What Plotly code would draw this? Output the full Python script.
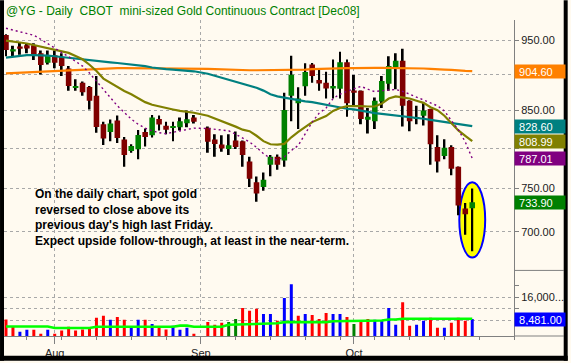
import math
import numpy as np
import pandas as pd
import plotly.graph_objects as go

# ------------------------------------------------------------------ data
first_day = "2008-07-23"
holidays = ["2008-09-01"]
trade_dates = [d for d in pd.bdate_range(first_day, "2008-10-24")
               if d.strftime("%Y-%m-%d") not in holidays]

month_labels = ["Aug", "Sep", "Oct"]
month_starts = ["2008-08-01", "2008-09-01", "2008-10-01"]

open_ = [958.6, 933.5, 941.0, 943.0, 943.0, 931.0, 917.0, 928.0, 925.3, 908.6,
         882.0, 888.0, 882.0, 869.8, 831.0, 821.0, 836.2, 811.0, 796.5, 798.7,
         821.0, 816.6, 838.0, 829.0, 827.0, 827.0, 832.6, 840.0,
         826.5, 811.0, 804.6, 798.8, 810.0, 809.0, 783.0, 757.5, 752.0, 779.0,
         789.0, 784.5, 869.8, 859.6, 883.0, 914.4, 892.0, 888.0, 880.0, 879.5,
         917.5, 877.0, 876.7, 837.0, 835.0, 862.0, 886.6, 909.5, 920.0, 863.0,
         838.6, 842.5, 851.7, 801.5, 790.0, 801.5, 776.5, 726.5, 726.8]
high = [959.7, 942.0, 947.0, 946.0, 946.0, 935.0, 935.0, 935.0, 931.0, 912.0,
        893.0, 889.7, 883.6, 897.7, 834.6, 837.3, 842.8, 814.5, 805.0, 823.7,
        825.6, 843.6, 842.8, 834.6, 834.6, 840.0, 849.5, 843.6,
        828.0, 818.0, 816.6, 818.0, 821.6, 810.0, 789.0, 764.5, 769.5, 791.3,
        792.0, 873.9, 927.4, 881.6, 916.0, 916.6, 907.0, 904.0, 921.6, 933.0,
        921.6, 899.0, 877.0, 853.0, 867.5, 897.7, 926.5, 931.0, 937.6, 863.5,
        856.0, 860.0, 852.0, 816.6, 811.5, 803.8, 777.0, 733.0, 750.0]
low = [926.5, 926.5, 928.8, 931.0, 921.0, 900.0, 914.4, 909.0, 897.7, 876.7,
       876.7, 869.8, 850.8, 820.0, 804.0, 809.0, 806.7, 776.5, 794.0, 786.0,
       802.0, 813.8, 823.0, 818.0, 809.0, 823.0, 827.0, 832.0,
       794.0, 789.0, 795.5, 791.3, 798.8, 776.5, 752.0, 734.5, 747.5, 765.0,
       772.8, 776.5, 835.0, 825.0, 869.8, 888.0, 876.7, 866.0, 866.0, 866.0,
       841.0, 855.0, 831.0, 819.0, 825.0, 853.0, 876.7, 879.0, 828.0, 822.0,
       831.0, 829.6, 779.0, 769.5, 786.0, 766.0, 718.7, 696.7, 678.6]
close = [935.6, 936.8, 937.5, 938.0, 928.0, 913.5, 928.0, 917.0, 912.0, 883.6,
         883.6, 874.6, 863.0, 827.4, 812.4, 832.0, 813.0, 791.3, 802.7, 817.0,
         814.5, 840.0, 830.8, 824.0, 828.5, 835.0, 837.9, 834.5,
         808.3, 805.4, 799.5, 803.8, 801.5, 791.3, 762.0, 744.0, 760.7, 789.0,
         779.0, 850.2, 899.5, 866.0, 903.4, 897.7, 887.0, 880.0, 883.6, 917.5,
         859.6, 874.0, 838.0, 841.0, 863.0, 890.6, 912.0, 920.0, 856.0, 835.0,
         840.0, 849.5, 805.0, 783.0, 800.4, 774.0, 730.0, 720.0, 733.9]

volume = [8300, 5800, 4100, 4800, 4800, 3400, 4800, 3400, 4500, 5800,
          4500, 4900, 5500, 8900, 9600, 8200, 9200, 8200, 5500, 8200,
          8200, 6800, 5800, 4900, 6200, 4800, 5500, 3400,
          7500, 6500, 7200, 7500, 8500, 12300, 11300, 12000, 10200, 10200,
          7900, 15700, 20500, 9600, 10200, 9900, 8500, 10600, 10200, 10200,
          9200, 6800, 7500, 8500, 8200, 7900, 12300, 6500, 14300, 6200,
          6500, 7900, 8900, 5500, 5500, 7200, 8900, 7900, 8481]
vol_tag = ["r", "r", "b", "b", "r", "r", "b", "r", "r", "r",
           "r", "r", "r", "r", "r", "b", "r", "r", "b", "b",
           "r", "b", "r", "r", "b", "b", "b", "r",
           "r", "r", "r", "g", "g", "r", "r", "r", "b", "b",
           "r", "b", "b", "r", "b", "r", "r", "r", "b", "b",
           "r", "g", "r", "r", "b", "b", "b", "b", "r", "r",
           "b", "b", "r", "r", "b", "r", "r", "r", "b"]
vol_avg = [5900] * 7 + [5400] * 6 + [5800] * 12 + [6200] * 2 + [5800] + \
          [5800] * 3 + [6500, 6600, 6600, 6700, 6700, 6800, 6900, 7000] + \
          [7400] * 7 + [7700] * 2 + [7950] * 6 + [8300] * 2 + [8600] * 11

ma_long = [901.5, 902.0, 902.5, 903.0, 904.0, 904.5, 905.0, 905.5, 906.0, 906.5,
           907.0, 907.5, 908.0, 908.5, 909.0, 909.0, 909.0, 909.0, 909.0, 909.0,
           909.0, 909.0, 909.0, 909.0, 909.0, 909.0, 909.0, 908.5,
           908.0, 907.5, 907.0, 907.0, 906.5, 906.5, 906.0, 906.0, 906.0, 906.0,
           906.0, 906.0, 906.0, 906.0, 907.0, 907.5, 908.0, 908.0, 908.0, 908.5,
           909.0, 909.0, 909.5, 909.5, 909.5, 909.5, 909.5, 909.5, 909.5, 909.5,
           909.0, 908.5, 908.0, 908.0, 907.0, 906.5, 905.5, 905.0, 904.60]
ma_mid = [924.5, 926.0, 927.5, 928.0, 928.0, 928.0, 927.5, 926.5, 925.5, 924.0,
          922.5, 921.5, 920.5, 919.5, 918.5, 917.5, 916.5, 915.5, 914.5, 913.5,
          912.0, 910.0, 908.5, 907.5, 907.0, 906.5, 905.5, 904.5,
          901.0, 898.0, 895.0, 892.0, 889.0, 887.0, 884.0, 881.0, 877.0, 872.0,
          869.0, 867.0, 865.0, 863.0, 862.0, 861.0, 859.0, 857.0, 855.5, 854.0,
          852.0, 851.0, 849.0, 847.0, 846.0, 845.0, 844.0, 843.0, 842.0, 840.5,
          839.5, 838.5, 837.0, 835.5, 834.5, 833.0, 831.5, 830.0, 828.60]
ma_short = [950.0, 949.0, 947.0, 945.5, 943.0, 940.5, 938.0, 936.0, 934.0, 931.5,
            927.0, 922.0, 914.0, 905.0, 894.0, 888.0, 882.0, 876.5, 872.0, 866.0,
            861.0, 857.5, 855.0, 853.5, 851.0, 849.0, 848.0, 846.5,
            842.5, 839.0, 835.0, 832.0, 828.0, 824.0, 822.0, 816.0, 809.0, 805.0,
            804.5, 805.5, 814.0, 821.0, 827.0, 834.0, 838.0, 842.0, 849.0, 853.0,
            855.5, 856.0, 855.5, 855.0, 855.0, 859.0, 866.0, 869.0, 868.0, 866.0,
            863.0, 860.0, 854.0, 850.0, 842.5, 833.0, 823.0, 816.0, 808.99]
ma_fast = [968.8, 966.0, 963.5, 961.0, 958.0, 952.0, 945.0, 938.0, 932.0, 926.0,
           919.0, 912.0, 902.0, 890.0, 878.0, 866.0, 856.0, 847.0, 838.0, 831.0,
           826.0, 822.5, 820.0, 818.7, 820.5, 822.5, 824.5, 826.0,
           825.5, 824.5, 823.5, 822.5, 818.0, 813.0, 808.0, 801.0, 793.0, 787.0,
           785.0, 789.0, 797.0, 803.5, 818.0, 834.0, 846.0, 853.0, 866.0, 872.0,
           876.0, 880.0, 883.0, 879.0, 875.5, 877.0, 878.0, 878.5, 876.0, 872.0,
           869.0, 865.0, 860.0, 856.0, 849.0, 836.0, 824.0, 808.0, 787.01]

price_ticks = [700, 750, 800, 850, 900, 950]
price_ticks_hidden = [800, 900]          # covered by the value boxes in the original
vol_ticks = [8000, 12000, 16000]
vol_minor_ticks = [20000]

title_parts = ["@YG - Daily", "CBOT", "mini-sized Gold Continuous Contract [Dec08]"]
note_lines = ["On the daily chart, spot gold",
              "reversed to close above its",
              "previous day's high last Friday.",
              "Expect upside follow-through, at least in the near-term."]

# ------------------------------------------------------------------ geometry helpers
W, H = 571, 363
ML, MR, MT, MB = 4, 54, 20, 25
PW, PH = W - ML - MR, H - MT - MB


def fx(px):
    return (px - ML) / PW


def fy(py):
    return (H - MB - py) / PH


split = fy(272)

FONT = "Arial, 'Liberation Sans', sans-serif"
BG = "#FFFAF0"
GRID = "#A8A8A8"
AXC = "#808080"
RED_C, GREEN_C = "#800000", "#008000"
VOL_COLORS = {"r": "#FF0000", "b": "#0000FF", "g": "#008000"}

# slot index = weekday count from first day (holiday keeps an empty slot)
slots = np.busday_count(first_day, [d.strftime("%Y-%m-%d") for d in trade_dates])
month_slots = [int(np.busday_count(first_day, np.busday_offset(m, 0, roll="forward")))
               for m in month_starts]
mondays = pd.date_range("2008-07-21", "2008-11-10", freq="W-MON")
week_slots = [int(np.busday_count(first_day, d.strftime("%Y-%m-%d"))) for d in mondays]

o = np.array(open_)
c = np.array(close)
hi = np.array(high)
lo = np.array(low)
body_base = np.minimum(o, c)
body_len = np.abs(c - o)
body_col = [GREEN_C if cc >= oo else RED_C for oo, cc in zip(o, c)]

fig = go.Figure()

# wicks
fig.add_trace(go.Bar(x=slots, y=hi - lo, base=lo, width=0.28,
                     marker=dict(color="black", line=dict(width=0)),
                     xaxis="x", yaxis="y", hoverinfo="skip"))
# bodies
fig.add_trace(go.Bar(x=slots, y=body_len, base=body_base, width=0.8,
                     marker=dict(color=body_col, line=dict(width=0)),
                     xaxis="x", yaxis="y", hoverinfo="skip"))

# moving averages
fig.add_trace(go.Scatter(x=slots, y=ma_long, mode="lines",
                         line=dict(color="#FF8000", width=2.2), xaxis="x", yaxis="y"))
fig.add_trace(go.Scatter(x=slots, y=ma_mid, mode="lines",
                         line=dict(color="#008080", width=2.2), xaxis="x", yaxis="y"))
fig.add_trace(go.Scatter(x=slots, y=ma_short, mode="lines",
                         line=dict(color="#808000", width=2.2), xaxis="x", yaxis="y"))
fig.add_trace(go.Scatter(x=slots, y=ma_fast, mode="lines",
                         line=dict(color="#800080", width=1.4, dash="2px,3px"),
                         xaxis="x", yaxis="y"))

# volume
fig.add_trace(go.Bar(x=slots, y=volume, width=0.43,
                     marker=dict(color=[VOL_COLORS[t] for t in vol_tag], line=dict(width=0)),
                     xaxis="x2", yaxis="y2"))
fig.add_trace(go.Scatter(x=slots, y=vol_avg, mode="lines",
                         line=dict(color="#00FF00", width=2.6), xaxis="x2", yaxis="y2"))

x_range = [-0.286, 73]

axis_font = dict(family=FONT, size=11, color="#202020")

fig.update_layout(
    width=W, height=H,
    margin=dict(l=ML, r=MR, t=MT, b=MB, pad=0),
    paper_bgcolor=BG, plot_bgcolor=BG,
    showlegend=False, barmode="overlay",
    xaxis=dict(domain=[0, 1], anchor="y", range=x_range,
               tickmode="array", tickvals=month_slots, showticklabels=False,
               ticks="", showgrid=True, gridcolor=GRID, griddash="dot", gridwidth=1,
               zeroline=False, showline=False),
    xaxis2=dict(domain=[0, 1], anchor="y2", range=x_range,
                tickmode="array", tickvals=month_slots, ticktext=month_labels,
                ticks="outside", ticklen=7, tickcolor=AXC, tickfont=axis_font,
                minor=dict(tickmode="array", tickvals=week_slots, ticks="outside",
                           ticklen=3, tickcolor=AXC, showgrid=False),
                showgrid=True, gridcolor=GRID, griddash="dot", gridwidth=1,
                zeroline=False, showline=True, linecolor=AXC, linewidth=1),
    yaxis=dict(domain=[split, 1], anchor="x", side="right", type="log",
               range=[math.log10(658.1), math.log10(981.7)],
               tickmode="array", tickvals=price_ticks,
               ticktext=["" if v in price_ticks_hidden else f"{v:.2f}" for v in price_ticks],
               ticks="outside", ticklen=4, tickcolor=AXC, tickfont=axis_font,
               showgrid=True, gridcolor=GRID, griddash="dot", gridwidth=1,
               zeroline=False, showline=True, linecolor=AXC, linewidth=1),
    yaxis2=dict(domain=[0, split], anchor="x2", side="right",
                range=[2630, 25250],
                tickmode="array", tickvals=vol_ticks,
                ticktext=["" if v != 16000 else f"{v:,}...." for v in vol_ticks],
                ticks="outside", ticklen=4, tickcolor=AXC, tickfont=axis_font,
                minor=dict(tickmode="array", tickvals=vol_minor_ticks, ticks="outside",
                           ticklen=4, tickcolor=AXC, showgrid=False),
                showgrid=True, gridcolor=GRID, griddash="dot", gridwidth=1,
                zeroline=False, showline=True, linecolor=AXC, linewidth=1),
)

last = slots[-1]
shapes = [
    # highlight ellipse around the last two sessions
    dict(type="circle", xref="x", yref="y", layer="between",
         x0=last - 1.86, x1=last + 1.86,
         y0=min(low[-2:]) * 0.99, y1=max(high[-2:]) * 1.0103,
         fillcolor="#FFFF00", line=dict(color="#0000FF", width=2)),
    # separator in the label column
    dict(type="line", xref="paper", yref="paper", x0=1, x1=fx(567), y0=split, y1=split,
         line=dict(color=AXC, width=1)),
    dict(type="line", xref="paper", yref="paper", x0=1, x1=fx(567), y0=0, y1=0,
         line=dict(color=AXC, width=1)),
    # black frame
    dict(type="rect", xref="paper", yref="paper", x0=fx(0), x1=fx(4), y0=fy(363), y1=fy(0),
         fillcolor="black", line=dict(width=0)),
    dict(type="rect", xref="paper", yref="paper", x0=fx(567), x1=fx(571), y0=fy(363), y1=fy(0),
         fillcolor="black", line=dict(width=0)),
    dict(type="rect", xref="paper", yref="paper", x0=fx(0), x1=fx(571), y0=fy(363), y1=fy(358),
         fillcolor="black", line=dict(width=0)),
]
fig.update_layout(shapes=shapes)

ann = []
gap = "\u00a0\u00a0"
ann.append(dict(x=fx(4), y=fy(11), xref="paper", yref="paper", xanchor="left",
                yanchor="middle", text=gap.join(title_parts), showarrow=False,
                font=dict(family=FONT, size=12, color="#008000")))

ann.append(dict(x=fx(33), y=fy(219.2), xref="paper", yref="paper", xanchor="left",
                yanchor="middle", align="left", showarrow=False,
                text="<br>".join(note_lines),
                font=dict(family=FONT, size=12, color="#000000", weight="bold")))


def value_box(val, text, color, yref, logy):
    return dict(x=1, xref="paper", xanchor="left",
                y=math.log10(val) if logy else val, yref=yref, yanchor="middle",
                text="\u00a0" + text, showarrow=False, bgcolor=color,
                font=dict(family=FONT, size=11, color="white"),
                width=48, height=11, borderpad=1, align="left")


ann.append(value_box(ma_long[-1], f"{ma_long[-1]:.2f}", "#FF8000", "y", True))
ann.append(value_box(ma_mid[-1], f"{ma_mid[-1]:.2f}", "#008080", "y", True))
ann.append(value_box(ma_short[-1], f"{ma_short[-1]:.2f}", "#808000", "y", True))
ann.append(value_box(ma_fast[-1], f"{ma_fast[-1]:.2f}", "#800080", "y", True))
ann.append(value_box(close[-1], f"{close[-1]:.2f}", "#008000", "y", True))
ann.append(value_box(volume[-1], f"{volume[-1]:,.2f}", "#0000FF", "y2", False))
fig.update_layout(annotations=ann)

fig.write_html("out.html",
               config={"displayModeBar": False},
               post_script="document.body.style.margin='0';document.body.style.padding='0';")
